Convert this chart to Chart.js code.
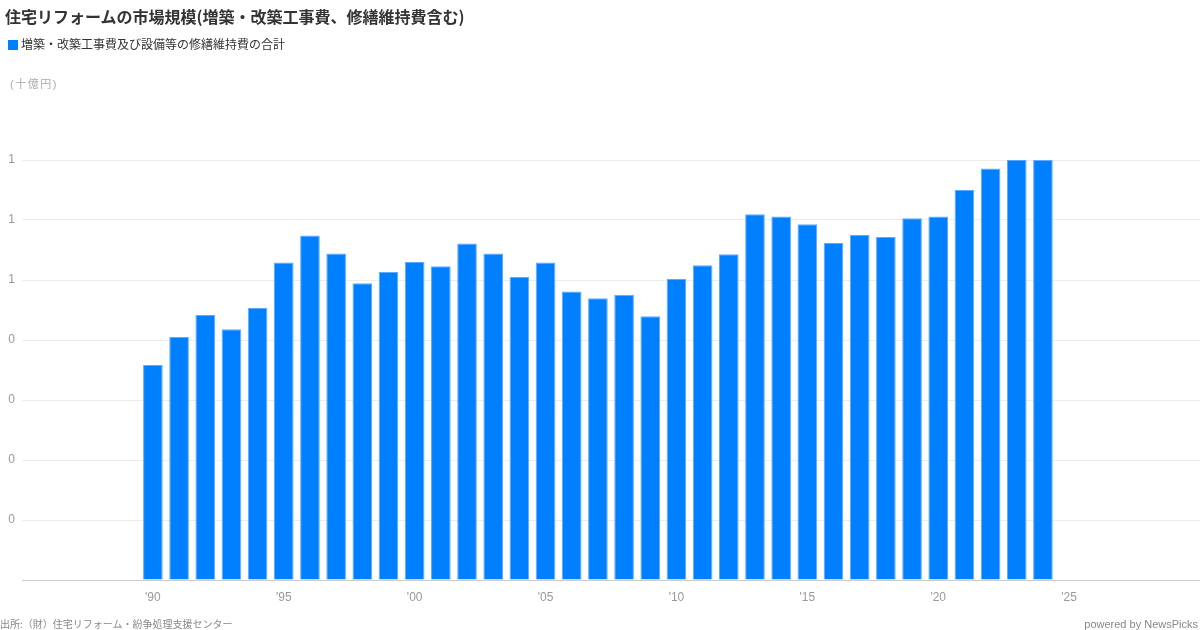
<!DOCTYPE html>
<html><head><meta charset="utf-8">
<script src="https://cdn.jsdelivr.net/npm/chart.js@4/dist/chart.umd.min.js"></script>
<style>
html,body{margin:0;padding:0;background:#fff;}
body{width:1200px;height:630px;position:relative;overflow:hidden;font-family:"Liberation Sans","Noto Sans CJK JP",sans-serif;}
#wrap{position:absolute;left:0;top:0;width:1200px;height:630px;}
.t{position:absolute;white-space:nowrap;}
#title{left:5px;top:6px;font-size:16px;font-weight:bold;color:#333;font-family:"Noto Sans CJK JP",sans-serif;line-height:20px;}
#legend{left:8px;top:36px;font-size:12px;color:#333;font-family:"Noto Sans CJK JP",sans-serif;line-height:16px;}
#legend span.sw{display:inline-block;width:10px;height:10px;background:#0080ff;margin-right:3px;vertical-align:-1px;}
#unit{left:10px;top:76px;font-size:11px;color:#aaa;letter-spacing:1.5px;font-family:"Liberation Sans","Noto Sans CJK JP",sans-serif;line-height:16px;}
#src{left:0px;top:617px;font-size:10px;color:#888;font-family:"Noto Sans CJK JP",sans-serif;line-height:14px;}
#pw{right:2px;top:616px;font-size:11px;color:#888;line-height:16px;}
</style></head>
<body>
<div id="wrap"><canvas id="c" width="1200" height="630"></canvas></div>
<div class="t" id="title">住宅リフォームの市場規模(増築・改築工事費、修繕維持費含む)</div>
<div class="t" id="legend"><span class="sw"></span>増築・改築工事費及び設備等の修繕維持費の合計</div>
<div class="t" id="unit">(十億円)</div>
<div class="t" id="src">出所:（財）住宅リフォーム・紛争処理支援センター</div>
<div class="t" id="pw">powered by NewsPicks</div>
<script>
const years = [1990,1991,1992,1993,1994,1995,1996,1997,1998,1999,2000,2001,2002,2003,2004,2005,2006,2007,2008,2009,2010,2011,2012,2013,2014,2015,2016,2017,2018,2019,2020,2021,2022,2023,2024];
const values = [0.717,0.810,0.883,0.836,0.907,1.058,1.148,1.088,0.989,1.027,1.060,1.046,1.122,1.088,1.010,1.058,0.962,0.939,0.951,0.879,1.003,1.049,1.086,1.219,1.212,1.186,1.123,1.150,1.143,1.206,1.212,1.300,1.372,1.402,1.400];
const xTickYears = [1990,1995,2000,2005,2010,2015,2020,2025];
const xTickLabels = ["'90","'95","'00","'05","'10","'15","'20","'25"];
const yTickLabels = ["","0","0","0","0","1","1","1"];
const seriesName = "増築・改築工事費及び設備等の修繕維持費の合計";

new Chart(document.getElementById('c'), {
  type: 'bar',
  data: {
    datasets: [{
      label: seriesName,
      data: years.map((y,i)=>({x:y, y:values[i]})),
      backgroundColor: '#0080ff',
      borderColor: '#5eaaff',
      borderWidth: 1,
      barPercentage: 1,
      categoryPercentage: 0.75
    }]
  },
  options: {
    responsive: false,
    animation: false,
    layout: {padding: {top: 160, bottom: 20, left: 0, right: 0}},
    plugins: {legend: {display: false}, tooltip: {enabled: false}},
    scales: {
      x: {
        type: 'linear', min: 1985, max: 2030, offset: false,
        afterBuildTicks: s => { s.ticks = xTickYears.map(v => ({value: v})); },
        afterFit: s => { s.height = 30; },
        ticks: {
          autoSkip: false, maxRotation: 0, padding: 10,
          color: '#999', font: {family: '"Liberation Sans", sans-serif', size: 12},
          callback: (v, i) => xTickLabels[i]
        },
        grid: {display: false, drawTicks: false},
        border: {display: true, color: '#cccccc', width: 1}
      },
      y: {
        min: 0, max: 1.4,
        afterFit: s => { s.width = 22; },
        ticks: {
          stepSize: 0.2, padding: 7,
          color: '#999', font: {family: '"Liberation Sans", sans-serif', size: 12},
          callback: (v, i) => yTickLabels[i]
        },
        grid: {color: '#ececec', drawTicks: false},
        border: {display: false}
      }
    }
  }
});
</script>
</body></html>
